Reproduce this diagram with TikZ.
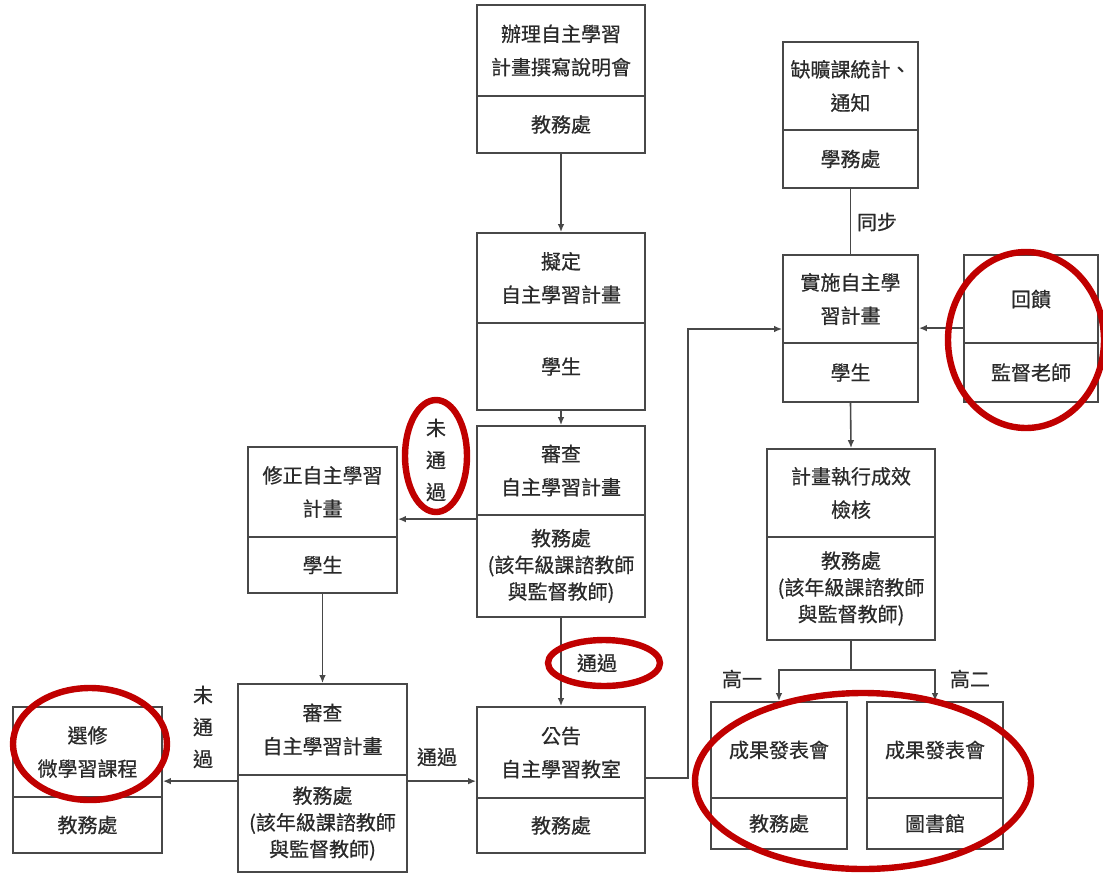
\documentclass[tikz,border=0pt]{standalone}
\usepackage{fontspec}
\newfontfamily\cjk[FakeBold=0.6]{Noto Sans CJK TC}
\usetikzlibrary{arrows.meta}
\definecolor{ln}{HTML}{484848}
\definecolor{tx}{HTML}{2A2A2A}
\definecolor{rd}{HTML}{C00000}
\newcommand{\bx}[7]{%
 \pgfmathsetmacro{\bw}{(#5-#3)*0.75}%
 \pgfmathsetmacro{\bh}{(#6-#4)*0.75}%
 \node[part,#1,minimum width=\bw pt,minimum height=\bh pt] (#2) at ({(#3+#5)/2},{(#4+#6)/2}) {#7};}
\tikzset{
 part/.style={draw=ln, line width=1.3pt, align=center, text=tx, inner sep=0pt,
   font=\cjk\fontsize{15}{25}\selectfont},
 tight/.style={font=\cjk\fontsize{15}{20}\selectfont},
 conn/.style={draw=ln, line width=1.2pt},
 arr/.style={conn, -{Latex[length=6pt,width=5pt]}},
 lab/.style={text=tx, inner sep=0pt, align=center, font=\cjk\fontsize{15}{24}\selectfont},
 redring/.style={draw=rd, line width=4.8pt},
}
\begin{document}
\begin{tikzpicture}[x=0.75pt,y=-0.75pt]
\useasboundingbox (0,0) rectangle (1103,875);
% boxes
\bx{}{At}{477}{5}{645}{96}{辦理自主學習\\計畫撰寫說明會}
\bx{}{Ab}{477}{96}{645}{153}{教務處}
\bx{}{Nt}{783}{42}{918}{130}{缺曠課統計、\\通知}
\bx{}{Nb}{783}{130}{918}{188}{學務處}
\bx{}{Bt}{477}{233}{645}{323}{擬定\\自主學習計畫}
\bx{}{Bb}{477}{323}{645}{410}{學生}
\bx{}{Ct}{477}{426}{645}{515}{審查\\自主學習計畫}
\bx{tight}{Cb}{477}{515}{645}{617}{教務處\\(該年級課諮教師\\與監督教師)}
\bx{}{Dt}{248}{447}{397}{537}{修正自主學習\\計畫}
\bx{}{Db}{248}{537}{397}{593}{學生}
\bx{}{Et}{238}{684}{407}{775}{審查\\自主學習計畫}
\bx{tight}{Eb}{238}{775}{407}{872}{教務處\\(該年級課諮教師\\與監督教師)}
\bx{}{Ft}{13}{707}{162}{797}{選修\\微學習課程}
\bx{}{Fb}{13}{797}{162}{853}{教務處}
\bx{}{Gt}{477}{707}{645}{798}{公告\\自主學習教室}
\bx{}{Gb}{477}{798}{645}{853}{教務處}
\bx{}{Ht}{783}{255}{918}{343}{實施自主學\\習計畫}
\bx{}{Hb}{783}{343}{918}{402}{學生}
\bx{}{It}{964}{255}{1098}{343}{回饋}
\bx{}{Ib}{964}{343}{1098}{402}{監督老師}
\bx{}{Jt}{767}{449}{935}{537}{計畫執行成效\\檢核}
\bx{tight}{Jb}{767}{537}{935}{640}{教務處\\(該年級課諮教師\\與監督教師)}
\bx{}{Kt}{711}{702}{847}{798}{成果發表會}
\bx{}{Kb}{711}{798}{847}{849}{教務處}
\bx{}{Lt}{867}{702}{1003}{798}{成果發表會}
\bx{}{Lb}{867}{798}{1003}{849}{圖書館}
% connectors
\draw[arr] (Ab.south) -- (Bt.north);
\draw[arr] (Bb.south) -- (Ct.north);
\draw[arr] (Cb.south) -- (Gt.north);
\draw[arr] ([yshift=-3.75pt]Cb.north west) -- ([yshift=-3.75pt]Cb.north west -| Dt.east);
\draw[arr] (Db.south) -- (Et.north);
\draw[arr] ([yshift=-5.25pt]Eb.north west) -- ([yshift=-5.25pt]Eb.north west -| Ft.east);
\draw[arr] ([yshift=-5.25pt]Eb.north east) -- ([yshift=-5.25pt]Eb.north east -| Gt.west);
\coordinate (bend) at (688,329);
\draw[arr] ([yshift=14.25pt]Gb.north east) -| (bend) -- (bend -| Ht.west);
\draw[conn] (Nb.south) -- (Ht.north);
\draw[arr] ([yshift=10.5pt]Ib.north west) -- ([yshift=10.5pt]Ib.north west -| Ht.east);
\draw[arr] (Hb.south) -- (Jt.north);
\coordinate (split) at (851,670);
\draw[conn] (Jb.south) -- (split);
\draw[arr] (split) -| (Kt.north);
\draw[arr] (split) -| (Lt.north);
% labels
\node[lab] (l1) at (436,460) {未\\通\\過};
\node[lab] (l2) at (203,727) {未\\通\\過};
\node[lab] (l3) at (437,757) {通過};
\node[lab] (l4) at (597,663) {通過};
\node[lab] (l5) at (877,222) {同步};
\node[lab] (l6) at (742,679) {高一};
\node[lab] (l7) at (970,679) {高二};
% red marks
\draw[redring] (436,456) ellipse [x radius=23.25pt, y radius=42pt];
\draw[redring] (604,663) ellipse [x radius=42pt, y radius=17.25pt];
\draw[redring] (90,744) ellipse [x radius=57.75pt, y radius=42pt];
\draw[redring] (1026,340) ellipse [x radius=58.5pt, y radius=66pt];
\draw[redring] (863,781) ellipse [x radius=126pt, y radius=66pt];
\end{tikzpicture}
\end{document}
